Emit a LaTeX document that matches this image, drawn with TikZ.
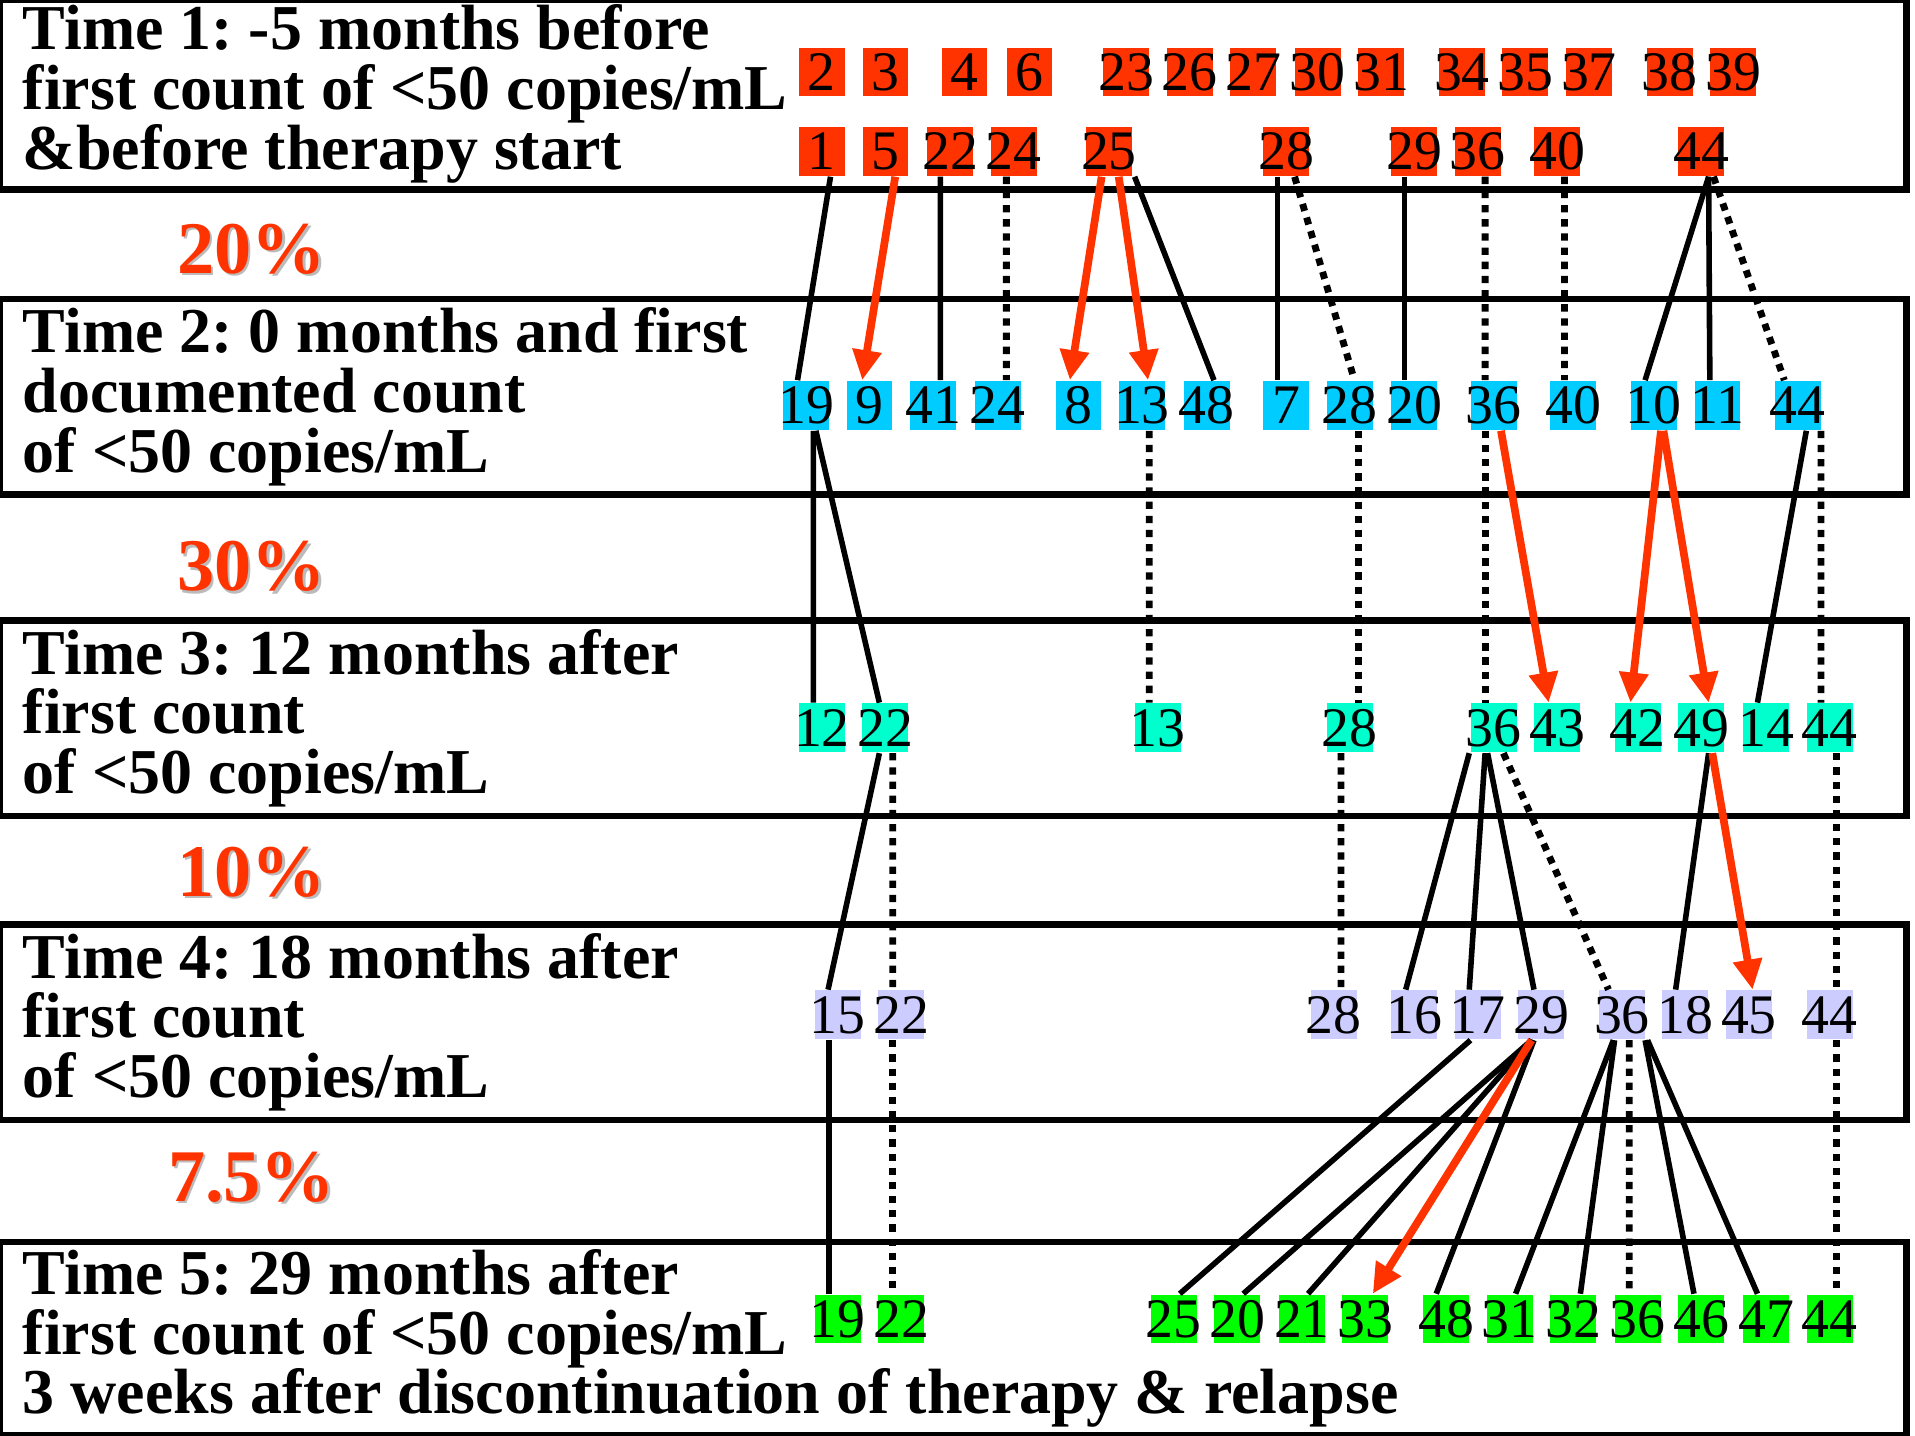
\documentclass[tikz,border=0pt]{standalone}
\usepackage{fontspec}
\setmainfont{Liberation Serif}
\usetikzlibrary{arrows.meta}
\frenchspacing

\definecolor{redorange}{HTML}{FF3300}
\definecolor{skyblue}{HTML}{00CCFF}
\definecolor{aquagreen}{HTML}{00FFCC}
\definecolor{lavender}{HTML}{CCCCFF}
\definecolor{brightgreen}{HTML}{00FF00}
\definecolor{shadegray}{HTML}{BBBBBB}

\begin{document}
\begin{tikzpicture}[y=-1cm,
    frame/.style={line width=1.5pt},
    timelabel/.style={anchor=west, align=left, inner sep=0pt, font=\bfseries\fontsize{14.9}{13.9}\selectfont},
    num/.style={minimum width=3.7mm, minimum height=4mm, inner xsep=-0.4mm, inner ysep=0pt, font=\fontsize{13}{13}\selectfont},
    tone/.style={num, fill=redorange},
    ttwo/.style={num, fill=skyblue},
    tthree/.style={num, fill=aquagreen},
    tfour/.style={num, fill=lavender},
    tfive/.style={num, fill=brightgreen},
    pct/.style={font=\bfseries\fontsize{17.3}{17.3}\selectfont, text=redorange},
    pctshade/.style={pct, text=shadegray},
    solidlink/.style={line width=1.3pt},
    dotlink/.style={line width=1.6pt, dash pattern=on 1.7pt off 1.6pt},
    redarrow/.style={line width=1.8pt, draw=redorange, -{Triangle[length=7pt, width=6.5pt]}}]
    \useasboundingbox (0,0) rectangle (15.68,11.75);

    % Frames of the five time points
    \draw[frame] (0,0) rectangle (15.61,1.55);
    \draw[frame] (0,2.45) rectangle (15.61,4.05);
    \draw[frame] (0,5.08) rectangle (15.61,6.68);
    \draw[frame] (0,7.57) rectangle (15.61,9.17);
    \draw[frame] (0,10.17) rectangle (15.61,11.75);

    % Labels for the time points
    \node[timelabel] (lab1) at (0.18,0.77) {Time 1: -5 months before\\first count of <50 copies/mL\\\&before therapy start};
    \node[timelabel] (lab2) at (0.18,3.25) {Time 2: 0 months and first\\documented count\\of <50 copies/mL};
    \node[timelabel] (lab3) at (0.18,5.88) {Time 3: 12 months after\\first count\\of <50 copies/mL};
    \node[timelabel] (lab4) at (0.18,8.37) {Time 4: 18 months after\\first count\\of <50 copies/mL};
    \node[timelabel] (lab5) at (0.18,10.96) {Time 5: 29 months after\\first count of <50 copies/mL\\3 weeks after discontinuation of therapy \& relapse};

    % Percentages between time points
    \foreach \txt/\y/\k in {20\%/2.04/1, 30\%/4.64/2, 10\%/7.14/3, 7.5\%/9.64/4} {
        \node[pctshade] (shade\k) at (2.08,\y+0.02) {\txt};
        \node[pct] (pct\k) at (2.06,\y) {\txt};
    }

    % Time 1 clones
    \foreach \n/\x in {2/6.73, 3/7.25, 4/7.90, 6/8.43, 23/9.22, 26/9.74, 27/10.26, 30/10.79,
                       31/11.31, 34/11.97, 35/12.49, 37/13.01, 38/13.67, 39/14.19}
        \node[tone] (t1-\n) at (\x,0.59) {\n};
    \foreach \n/\x in {1/6.73, 5/7.25, 22/7.78, 24/8.30, 25/9.08, 28/10.53, 29/11.58,
                       36/12.10, 40/12.75, 44/13.93}
        \node[tone] (t1-\n) at (\x,1.24) {\n};

    % Time 2 clones
    \foreach \n/\x in {19/6.60, 9/7.12, 41/7.64, 24/8.17, 8/8.83, 13/9.35, 48/9.88, 7/10.53,
                       28/11.05, 20/11.58, 36/12.23, 40/12.88, 10/13.54, 11/14.06, 44/14.72}
        \node[ttwo] (t2-\n) at (\x,3.32) {\n};

    % Time 3 clones
    \foreach \n/\x in {12/6.73, 22/7.25, 13/9.48, 28/11.05, 36/12.23, 43/12.75, 42/13.41,
                       49/13.93, 14/14.46, 44/14.98}
        \node[tthree] (t3-\n) at (\x,5.96) {\n};

    % Time 4 clones
    \foreach \n/\x in {15/6.86, 22/7.38, 28/10.92, 16/11.58, 17/12.10, 29/12.62, 36/13.28,
                       18/13.80, 45/14.32, 44/14.98}
        \node[tfour] (t4-\n) at (\x,8.31) {\n};

    % Time 5 clones
    \foreach \n/\x in {19/6.86, 22/7.38, 25/9.61, 20/10.13, 21/10.66, 33/11.18, 48/11.84,
                       31/12.36, 32/12.88, 36/13.41, 46/13.93, 47/14.46, 44/14.98}
        \node[tfive] (t5-\n) at (\x,10.80) {\n};

    % Time 1 -> Time 2
    \draw[solidlink] ([xshift=0.7mm]t1-1.south) -- ([xshift=-0.7mm]t2-19.north);
    \draw[solidlink] ([xshift=-0.8mm]t1-22.south) -- ([xshift=0.6mm]t2-41.north);
    \draw[dotlink] ([xshift=-0.6mm]t1-24.south) -- ([xshift=0.7mm]t2-24.north);
    \draw[solidlink] ([xshift=2.1mm]t1-25.south) -- ([xshift=0.6mm]t2-48.north);
    \draw[solidlink] ([xshift=-0.7mm]t1-28.south) -- ([xshift=-0.7mm]t2-7.north);
    \draw[dotlink] ([xshift=0.7mm]t1-28.south) -- ([xshift=0.4mm]t2-28.north);
    \draw[solidlink] ([xshift=-0.8mm]t1-29.south) -- ([xshift=-0.8mm]t2-20.north);
    \draw[dotlink] ([xshift=0.6mm]t1-36.south) -- ([xshift=-0.7mm]t2-36.north);
    \draw[dotlink] ([xshift=0.6mm]t1-40.south) -- ([xshift=-0.7mm]t2-40.north);
    \draw[solidlink] ([xshift=0.6mm]t1-44.south) -- ([xshift=-0.7mm]t2-10.north);
    \draw[solidlink] ([xshift=0.6mm]t1-44.south) -- ([xshift=-0.6mm]t2-11.north);
    \draw[dotlink] ([xshift=1mm]t1-44.south) -- ([xshift=-1.1mm]t2-44.north);
    \draw[redarrow] ([xshift=0.8mm]t1-5.south) -- ([xshift=-0.6mm]t2-9.north);
    \draw[redarrow] ([xshift=-0.6mm]t1-25.south) -- ([xshift=-0.7mm]t2-8.north);
    \draw[redarrow] ([xshift=0.8mm]t1-25.south) -- ([xshift=0.5mm]t2-13.north);

    % Time 2 -> Time 3
    \draw[solidlink] ([xshift=0.6mm]t2-19.south) -- ([xshift=-0.7mm]t3-12.north);
    \draw[solidlink] ([xshift=0.8mm]t2-19.south) -- ([xshift=-0.5mm]t3-22.north);
    \draw[dotlink] ([xshift=0.6mm]t2-13.south) -- ([xshift=-0.7mm]t3-13.north);
    \draw[dotlink] ([xshift=0.7mm]t2-28.south) -- ([xshift=0.7mm]t3-28.north);
    \draw[dotlink] ([xshift=-0.7mm]t2-36.south) -- ([xshift=-0.7mm]t3-36.north);
    \draw[solidlink] ([xshift=0.7mm]t2-44.south) -- ([xshift=-0.7mm]t3-14.north);
    \draw[dotlink] ([xshift=1.9mm]t2-44.south) -- ([xshift=-0.7mm]t3-44.north);
    \draw[redarrow] ([xshift=0.6mm]t2-36.south) -- ([xshift=-0.7mm]t3-43.north);
    \draw[redarrow] ([xshift=0.6mm]t2-10.south) -- ([xshift=-0.6mm]t3-42.north);
    \draw[redarrow] ([xshift=0.8mm]t2-10.south) -- ([xshift=0.6mm]t3-49.north);

    % Time 3 -> Time 4
    \draw[solidlink] ([xshift=-0.5mm]t3-22.south) -- ([xshift=-0.8mm]t4-15.north);
    \draw[dotlink] ([xshift=0.6mm]t3-22.south) -- ([xshift=-0.7mm]t4-22.north);
    \draw[dotlink] ([xshift=-0.7mm]t3-28.south) -- ([xshift=0.6mm]t4-28.north);
    \draw[solidlink] ([xshift=-2mm]t3-36.south) -- ([xshift=-0.7mm]t4-16.north);
    \draw[solidlink] ([xshift=-0.7mm]t3-36.south) -- ([xshift=-0.7mm]t4-17.north);
    \draw[solidlink] ([xshift=-0.5mm]t3-36.south) -- ([xshift=-0.6mm]t4-29.north);
    \draw[dotlink] ([xshift=0.8mm]t3-36.south) -- ([xshift=-1.1mm]t4-36.north);
    \draw[solidlink] ([xshift=0.6mm]t3-49.south) -- ([xshift=-0.8mm]t4-18.north);
    \draw[dotlink] ([xshift=0.6mm]t3-44.south) -- ([xshift=0.6mm]t4-44.north);
    \draw[redarrow] ([xshift=0.9mm]t3-49.south) -- ([xshift=0.3mm]t4-45.north);

    % Time 4 -> Time 5
    \draw[solidlink] ([xshift=-0.7mm]t4-15.south) -- ([xshift=-0.7mm]t5-19.north);
    \draw[dotlink] ([xshift=-0.7mm]t4-22.south) -- ([xshift=-0.7mm]t5-22.north);
    \draw[solidlink] ([xshift=-0.6mm]t4-17.south) -- ([xshift=0.5mm]t5-25.north);
    \draw[solidlink] ([xshift=-0.8mm]t4-29.south) -- ([xshift=0.5mm]t5-20.north);
    \draw[solidlink] ([xshift=-0.8mm]t4-29.south) -- ([xshift=0.5mm]t5-21.north);
    \draw[solidlink] ([xshift=-0.6mm]t4-29.south) -- ([xshift=-0.8mm]t5-48.north);
    \draw[solidlink] ([xshift=-0.7mm]t4-36.south) -- ([xshift=0.5mm]t5-31.north);
    \draw[solidlink] ([xshift=-0.6mm]t4-36.south) -- ([xshift=0.6mm]t5-32.north);
    \draw[dotlink] ([xshift=0.6mm]t4-36.south) -- ([xshift=-0.7mm]t5-36.north);
    \draw[solidlink] ([xshift=1.9mm]t4-36.south) -- ([xshift=-0.6mm]t5-46.north);
    \draw[solidlink] ([xshift=2.1mm]t4-36.south) -- ([xshift=-0.7mm]t5-47.north);
    \draw[dotlink] ([xshift=0.6mm]t4-44.south) -- ([xshift=0.6mm]t5-44.north);
    \draw[redarrow] ([xshift=-0.8mm]t4-29.south) -- ([xshift=0.6mm]t5-33.north);

\end{tikzpicture}
\end{document}
